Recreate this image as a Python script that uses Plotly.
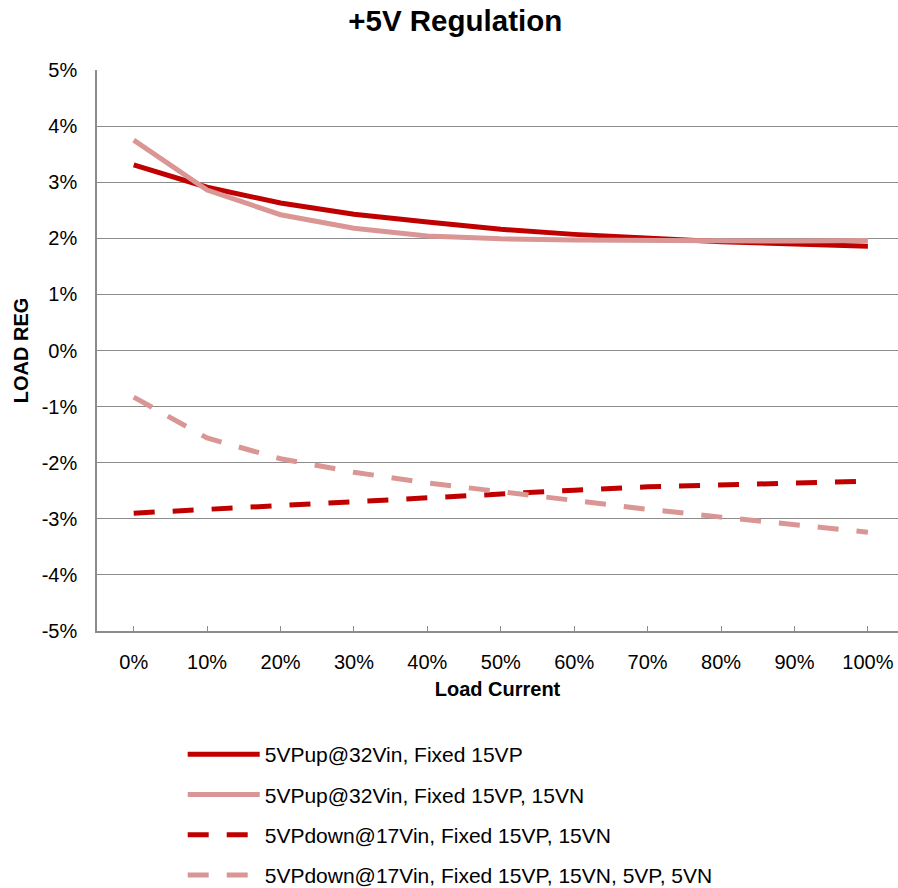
import plotly.graph_objects as go

categories = ["0%", "10%", "20%", "30%", "40%", "50%", "60%", "70%", "80%", "90%", "100%"]
up_fixed15vp = [3.31, 2.91, 2.63, 2.43, 2.29, 2.16, 2.07, 2.00, 1.94, 1.90, 1.86]
up_fixed15vp_15vn = [3.75, 2.86, 2.42, 2.18, 2.04, 1.99, 1.97, 1.96, 1.95, 1.95, 1.96]
down_fixed15vp_15vn = [-2.90, -2.83, -2.75, -2.68, -2.61, -2.56, -2.49, -2.43, -2.40, -2.36, -2.33]
down_all = [-0.83, -1.56, -1.93, -2.17, -2.36, -2.52, -2.66, -2.83, -2.97, -3.11, -3.24]

y_tickvals = [5, 4, 3, 2, 1, 0, -1, -2, -3, -4, -5]
y_ticktext = ["5%", "4%", "3%", "2%", "1%", "0%", "-1%", "-2%", "-3%", "-4%", "-5%"]

names = [
    "5VPup@32Vin, Fixed 15VP",
    "5VPup@32Vin, Fixed 15VP, 15VN",
    "5VPdown@17Vin, Fixed 15VP, 15VN",
    "5VPdown@17Vin, Fixed 15VP, 15VN, 5VP, 5VN",
]
series = [up_fixed15vp, up_fixed15vp_15vn, down_fixed15vp_15vn, down_all]
colors = ["#C00000", "#D99694", "#C00000", "#D99694"]
dashes = ["solid", "solid", "21px,18px", "21px,18px"]

FONT = "Arial, Liberation Sans, sans-serif"

fig = go.Figure()
for i, (nm, vals, c, d) in enumerate(zip(names, series, colors, dashes)):
    fig.add_trace(go.Scatter(
        x=categories, y=vals, name=nm, mode="lines",
        line=dict(color=c, width=5, dash=d),
        legendgroup=f"g{i}",
    ))

fig.update_layout(
    width=898, height=888,
    margin=dict(l=97, r=0, t=70, b=257),
    plot_bgcolor="white", paper_bgcolor="white",
    font=dict(family=FONT, size=20, color="black"),
    title=dict(text="<b>+5V Regulation</b>", x=0.507, xanchor="center",
               yref="container", y=1 - 21 / 888, yanchor="middle",
               font=dict(size=29.5, family=FONT, color="black")),
    showlegend=True,
    legend=dict(x=0.107, xanchor="left", yref="container", y=1 - 734 / 888, yanchor="top",
                itemwidth=72, tracegroupgap=10, font=dict(size=21, family=FONT),
                bgcolor="rgba(0,0,0,0)"),
)
fig.update_xaxes(
    type="category", range=[-0.5, 10.41],
    showline=True, linecolor="#8c8c8c", linewidth=1.5,
    ticks="inside", ticklen=5, tickcolor="#8c8c8c",
    showgrid=False, zeroline=False,
    tickfont=dict(size=20), ticklabelstandoff=12,
    title=dict(text="<b>Load Current</b>", font=dict(size=20), standoff=10),
)
fig.update_yaxes(
    range=[-5, 5], tickvals=y_tickvals, ticktext=y_ticktext,
    showline=True, linecolor="#8c8c8c", linewidth=1.5,
    showgrid=True, gridcolor="#8c8c8c", gridwidth=1.3, zeroline=False,
    ticks="", tickfont=dict(size=20), ticklabelstandoff=14,
    title=dict(text="<b>LOAD REG</b>", font=dict(size=20), standoff=8),
)

fig.write_html("out.html", post_script="document.body.style.margin='0';",
               config={"displayModeBar": False})
